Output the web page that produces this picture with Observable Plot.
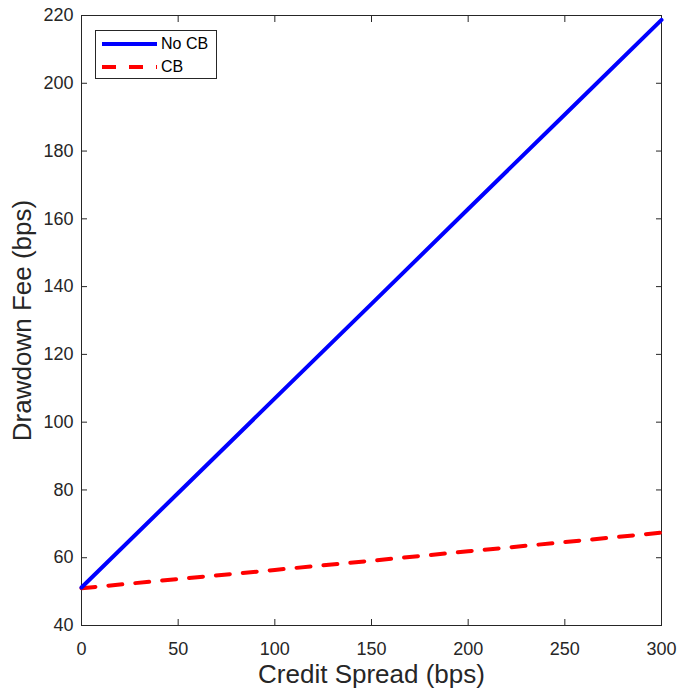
<!DOCTYPE html>
<html>
<head>
<meta charset="utf-8">
<script src="https://cdn.jsdelivr.net/npm/d3@7"></script>
<script src="https://cdn.jsdelivr.net/npm/@observablehq/plot@0.6"></script>
<style>
  html, body { margin: 0; padding: 0; background: #fff; }
  #wrap { position: relative; width: 678px; height: 690px; font-family: "Liberation Sans", Arial, Helvetica, sans-serif; }
  #legend { position: absolute; left: 95px; top: 30px; width: 122px; height: 49px; border: 1px solid #262626; background: #fff; box-sizing: border-box; }
  #legend svg.sample { position: absolute; left: 0; }
  #legend span { position: absolute; left: 65px; font-size: 16px; line-height: 16px; color: #000; }
</style>
</head>
<body>
<div id="wrap"></div>
<script>
const spread = [0, 50, 100, 150, 200, 250, 300];
const feeNoCB = [51.2, 79.1, 107.0, 134.9, 162.9, 190.8, 218.7];
const feeCB = [51.0, 53.7, 56.4, 59.1, 61.9, 64.6, 67.4];
const xTicks = [0, 50, 100, 150, 200, 250, 300];
const yTicks = [40, 60, 80, 100, 120, 140, 160, 180, 200, 220];
const seriesNames = ["No CB", "CB"];
const xLabel = "Credit Spread (bps)";
const yLabel = "Drawdown Fee (bps)";

const noCB = spread.map((s, i) => ({x: s, y: feeNoCB[i]}));
const cb = spread.map((s, i) => ({x: s, y: feeCB[i]}));

const axisColor = "#262626";

const chart = Plot.plot({
  width: 678,
  height: 690,
  marginLeft: 81,
  marginRight: 17,
  marginTop: 15,
  marginBottom: 65,
  style: {fontFamily: "'Liberation Sans', Arial, Helvetica, sans-serif", fontSize: "18px", color: axisColor, background: "#fff"},
  x: {domain: [0, 300]},
  y: {domain: [40, 220]},
  marks: [
    Plot.axisX({ticks: xTicks, tickSize: -6, tickPadding: 23, label: null, stroke: axisColor, fill: axisColor, fontSize: 18}),
    Plot.axisX({anchor: "top", ticks: xTicks, tickSize: -6, tickFormat: () => "", label: null, stroke: axisColor}),
    Plot.axisY({ticks: yTicks, tickSize: -6, tickPadding: 14, label: null, stroke: axisColor, fill: axisColor, fontSize: 18}),
    Plot.axisY({anchor: "right", ticks: yTicks, tickSize: -6, tickFormat: () => "", label: null, stroke: axisColor}),
    Plot.frame({stroke: axisColor, strokeWidth: 1}),
    Plot.line(cb, {x: "x", y: "y", stroke: "#ff0000", strokeWidth: 4, strokeDasharray: "14,13"}),
    Plot.line(noCB, {x: "x", y: "y", stroke: "#0000ff", strokeWidth: 4}),
    Plot.text([xLabel], {frameAnchor: "bottom", lineAnchor: "middle", textAnchor: "middle", dy: 49, fontSize: 26, fill: axisColor}),
    Plot.text([yLabel], {frameAnchor: "left", lineAnchor: "middle", textAnchor: "middle", dx: -59, rotate: -90, fontSize: 26, fill: axisColor})
  ]
});

const wrap = document.getElementById("wrap");
wrap.appendChild(chart);

const legend = document.createElement("div");
legend.id = "legend";
const styles = [
  {color: "#0000ff", dash: null},
  {color: "#ff0000", dash: "14,13"}
];
seriesNames.forEach((name, i) => {
  const st = styles[i];
  const cy = 13 + i * 22.5;
  const svg = `<svg class="sample" width="64" height="10" style="top:${cy - 5}px"><line x1="6" y1="5" x2="61" y2="5" stroke="${st.color}" stroke-width="4" ${st.dash ? `stroke-dasharray="${st.dash}"` : ""}/></svg>`;
  legend.insertAdjacentHTML("beforeend", svg + `<span style="top:${cy - 8}px">${name}</span>`);
});
wrap.appendChild(legend);
</script>
</body>
</html>
